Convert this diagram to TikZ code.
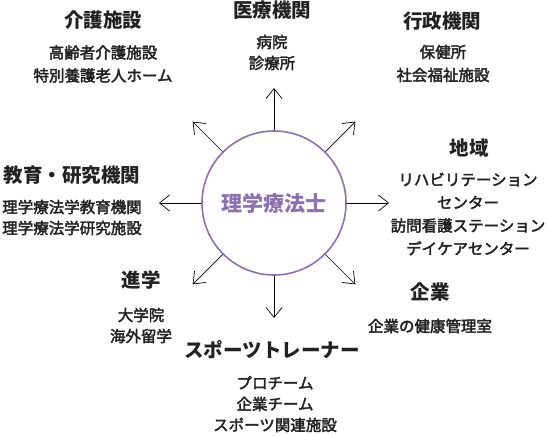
\documentclass[tikz,border=0pt]{standalone}
\usepackage{fontspec}
\setmainfont{Noto Sans CJK JP}
\newfontfamily\jpmed{Noto Sans CJK JP}[FakeBold=2.5]
\usetikzlibrary{arrows.meta}
\definecolor{ptpurple}{RGB}{140,112,176}
\definecolor{txtgray}{RGB}{34,34,34}
\tikzset{
  head/.style={font=\fontsize{19.5}{22}\selectfont\bfseries, text=txtgray, inner sep=0pt},
  sub/.style={font=\fontsize{15.5}{21}\selectfont\jpmed, text=txtgray, align=center, inner sep=0pt},
  subwide/.style={sub, font=\fontsize{15.5}{23}\selectfont\jpmed},
  arr/.style={-{Straight Barb[length=10pt,width=16pt]}, line width=0.7pt},
}
\begin{document}
\begin{tikzpicture}[x=1pt,y=-1pt]
\useasboundingbox (0,0) rectangle (546,436);
% centre
\node[circle, draw=ptpurple, line width=1.6pt, minimum size=144pt, inner sep=0pt,
  text=ptpurple, font=\fontsize{21}{24}\selectfont\bfseries] (pt) at (274,203) {理学療法士};
\foreach \a in {0,45,...,315}{
  \path (pt.center) ++(\a:115pt) coordinate (tip\a);
  \draw[arr] (pt.\a) -- (tip\a);
}
% fields
\node[head] (kaigo) at (103,20) {介護施設};
\node[subwide] (kaigo-sub) at (103,64) {高齢者介護施設\\特別養護老人ホーム};
\node[head] (iryo) at (272,10) {医療機関};
\node[sub] (iryo-sub) at (272,52.5) {病院\\診療所};
\node[head] (gyosei) at (442,21) {行政機関};
\node[subwide] (gyosei-sub) at (443,63.5) {保健所\\社会福祉施設};
\node[head] (kyoiku) at (72,175) {教育・研究機関};
\node[sub] (kyoiku-sub) at (72,217.5) {理学療法学教育機関\\理学療法学研究施設};
\node[head] (shingaku) at (141,280) {進学};
\node[sub] (shingaku-sub) at (141,325.5) {大学院\\海外留学};
\node[head] (chiiki) at (469,148) {地域};
\node[subwide] (chiiki-sub) at (468,214) {リハビリテーション\\センター\\訪問看護ステーション\\デイケアセンター};
\node[head] (kigyo) at (430,292) {企業};
\node[sub] (kigyo-sub) at (430,326) {企業の健康管理室};
\node[head] (sports) at (272,350) {スポーツトレーナー};
\node[sub] (sports-sub) at (275,404) {プロチーム\\企業チーム\\スポーツ関連施設};
\end{tikzpicture}
\end{document}
